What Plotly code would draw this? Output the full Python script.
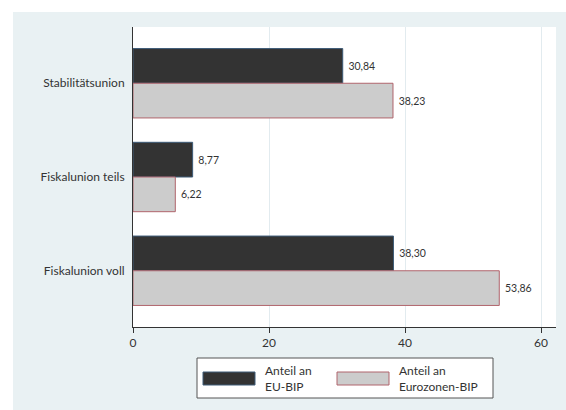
import plotly.graph_objects as go

categories = ["Stabilitätsunion", "Fiskalunion teils", "Fiskalunion voll"]
eu_bip = [30.84, 8.77, 38.30]
euro_bip = [38.23, 6.22, 53.86]
series_names = ["Anteil an<br>EU-BIP", "Anteil an<br>Eurozonen-BIP"]
x_ticks = [0, 20, 40, 60]

W, H = 566, 410
ML, MR, MT, MB = 133, 10, 27, 83
PW, PH = W - ML - MR, H - MT - MB

def px(x):
    return (x - ML) / PW

def py(y):
    return (H - MB - y) / PH

def fmt(v):
    return "\u00a0" + f"{v:.2f}".replace(".", ",")

dark = "#333333"
light = "#CCCCCC"
txt = "#333333"
bg = "#E9F1F3"

fig = go.Figure()
fig.add_trace(go.Bar(
    y=categories, x=eu_bip, orientation="h", name="EU-BIP",
    marker=dict(color=dark, line=dict(color="#3E5C78", width=1)),
    text=[fmt(v) for v in eu_bip], textposition="outside",
    textfont=dict(size=10.5, color=txt), cliponaxis=False, showlegend=False,
))
fig.add_trace(go.Bar(
    y=categories, x=euro_bip, orientation="h", name="Eurozonen-BIP",
    marker=dict(color=light, line=dict(color="#B0646C", width=1)),
    text=[fmt(v) for v in euro_bip], textposition="outside",
    textfont=dict(size=10.5, color=txt), cliponaxis=False, showlegend=False,
))

shapes = [
    # white strips outside the light frame
    dict(type="rect", xref="paper", yref="paper", x0=px(0), x1=px(W), y0=py(0), y1=py(12),
         fillcolor="white", line_width=0, layer="below"),
    dict(type="rect", xref="paper", yref="paper", x0=px(0), x1=px(13), y0=py(H), y1=py(0),
         fillcolor="white", line_width=0, layer="below"),
    # legend box
    dict(type="rect", xref="paper", yref="paper", x0=px(197), x1=px(493), y0=py(398), y1=py(358),
         fillcolor="white", line=dict(color="#555555", width=1)),
    dict(type="rect", xref="paper", yref="paper", x0=px(203), x1=px(255), y0=py(385), y1=py(372),
         fillcolor=dark, line=dict(color="#3E5C78", width=1)),
    dict(type="rect", xref="paper", yref="paper", x0=px(337), x1=px(389), y0=py(385), y1=py(372),
         fillcolor=light, line=dict(color="#B0646C", width=1)),
]
annotations = [
    dict(xref="paper", yref="paper", x=px(263), y=py(378.5), text=series_names[0],
         showarrow=False, xanchor="left", yanchor="middle", align="left",
         font=dict(size=12, color=txt, family="Lato")),
    dict(xref="paper", yref="paper", x=px(397), y=py(378.5), text=series_names[1],
         showarrow=False, xanchor="left", yanchor="middle", align="left",
         font=dict(size=12, color=txt, family="Lato")),
]

fig.update_layout(
    width=W, height=H,
    margin=dict(l=ML, r=MR, t=MT, b=MB, pad=0),
    paper_bgcolor=bg, plot_bgcolor="white",
    barmode="group", bargap=0.26, bargroupgap=0,
    font=dict(family="Lato", size=12, color=txt),
    showlegend=False,
    shapes=shapes, annotations=annotations,
    xaxis=dict(range=[0, 62.2], tickvals=x_ticks, ticks="outside", ticklen=5,
               tickcolor="#333333", showline=True, linecolor="#333333", linewidth=1,
               showgrid=True, gridcolor="#E2EBEF", gridwidth=1, zeroline=False,
               tickfont=dict(size=12, color=txt), fixedrange=True),
    yaxis=dict(categoryorder="array", categoryarray=categories, range=[2.6, -0.6],
               showline=True, linecolor="#333333", linewidth=1, ticks="",
               showgrid=False, zeroline=False, ticklabelstandoff=5,
               tickfont=dict(size=12, color=txt), fixedrange=True),
)

fig.write_html("out.html")
